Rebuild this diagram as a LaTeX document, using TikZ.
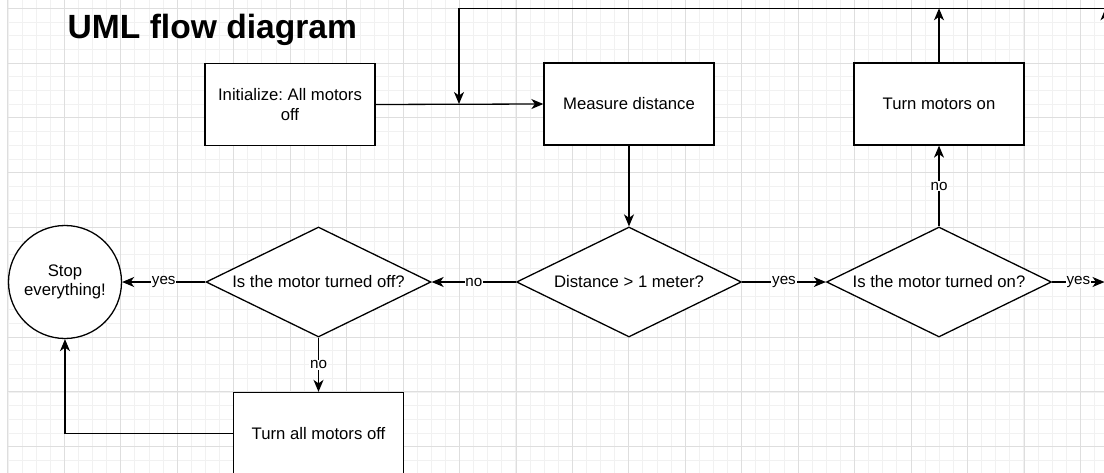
\documentclass[tikz,border=0pt]{standalone}
\usepackage{fontspec}
\setmainfont{Liberation Sans}
\usetikzlibrary{shapes.geometric,arrows.meta}
\frenchspacing

\tikzset{
  gridminor/.style={draw=black!5.5, line width=0.8pt},
  gridmajor/.style={draw=black!13, line width=0.9pt},
  txt/.style={font=\fontsize{16.7}{19.5}\selectfont, text=black},
  procbox/.style={draw=black, line width=1.3pt, fill=white, rectangle,
    minimum width=170pt, minimum height=82pt, inner sep=0pt, txt, align=center},
  decision/.style={draw=black, line width=1.3pt, fill=white, diamond,
    minimum width=225pt, minimum height=110pt, inner sep=0pt},
  dlab/.style={txt, inner sep=0pt},
  endcircle/.style={draw=black, line width=1.3pt, fill=white, circle,
    minimum size=113pt, inner sep=1pt, txt, align=center},
  flow/.style={draw=black, line width=1.3pt,
    -{Stealth[length=12pt, width=10pt, inset=3.5pt]}},
  lbl/.style={fill=white, inner sep=0.8pt, font=\fontsize{15.2}{17}\selectfont, text=black},
}

\begin{document}
\begin{tikzpicture}[x=1pt, y=-1pt]
  % canvas
  \useasboundingbox (0,0) rectangle (1104,473);
  \fill[white] (0,0) rectangle (1104,473);

  % background grid: minor lines, then every fourth line darker
  \foreach \i in {0,...,78} {
    \draw[gridminor] ({7.9+\i*14.11},0) -- ({7.9+\i*14.11},473);
  }
  \foreach \j in {0,...,34} {
    \draw[gridminor] (7.9,{8.3+\j*13.7}) -- (1104,{8.3+\j*13.7});
  }
  \foreach \i in {0,...,19} {
    \draw[gridmajor] ({7.9+\i*56.45},0) -- ({7.9+\i*56.45},473);
  }
  \foreach \j in {0,...,8} {
    \draw[gridmajor] (7.9,{8.3+\j*54.8}) -- (1104,{8.3+\j*54.8});
  }

  % title
  \node[anchor=base west, inner sep=0pt, font=\fontsize{33.6}{38}\selectfont\bfseries]
    (title) at (67.5,39) {UML flow diagram};

  % process boxes
  \node[procbox] (init) at (290,104.5) {Initialize: All motors\\off};
  \node[procbox] (measure) at (629,104) {Measure distance};
  \node[procbox] (on) at (939,104) {Turn motors on};
  \node[procbox] (alloff) at (318.5,433.5) {Turn all motors off};

  % decisions
  \node[decision, label={[dlab]center:Distance > 1 meter?}] (dist) at (629,282) {};
  \node[decision, label={[dlab]center:Is the motor turned off?}] (isoff) at (318.5,282) {};
  \node[decision, label={[dlab]center:Is the motor turned on?}] (ison) at (939,282) {};

  % terminal
  \node[endcircle] (stop) at (65,282) {Stop\\everything!};

  % return loop along the top
  \coordinate (loopR) at (1112,8.3);
  \coordinate (loopL) at (459,8.3);
  \coordinate (join) at (459,104);
  \coordinate (rightdown) at (1105.5,60);
  \coordinate (rightend) at (1104.5,282);

  % connectors
  \draw[flow] (init.east) -- (measure.west);
  \draw[flow] (loopR) -- (loopL) -- (join);
  \draw[flow] (on.north) -- (on.north |- loopL);
  \draw[flow] (rightdown) -- (rightdown |- loopL);
  \draw[flow] (measure.south) -- (dist.north);
  \draw[flow] (dist.west) -- node[lbl] {no} (isoff.east);
  \draw[flow] (isoff.west) -- node[lbl] {yes} (stop.east);
  \draw[flow] (isoff.south) -- node[lbl] {no} (alloff.north);
  \draw[flow] (alloff.west) -| (stop.south);
  \draw[flow] (dist.east) -- node[lbl] {yes} (ison.west);
  \draw[flow] (ison.north) -- node[lbl] {no} (on.south);
  \draw[flow] (ison.east) -- node[lbl] {yes} (rightend);
\end{tikzpicture}
\end{document}
